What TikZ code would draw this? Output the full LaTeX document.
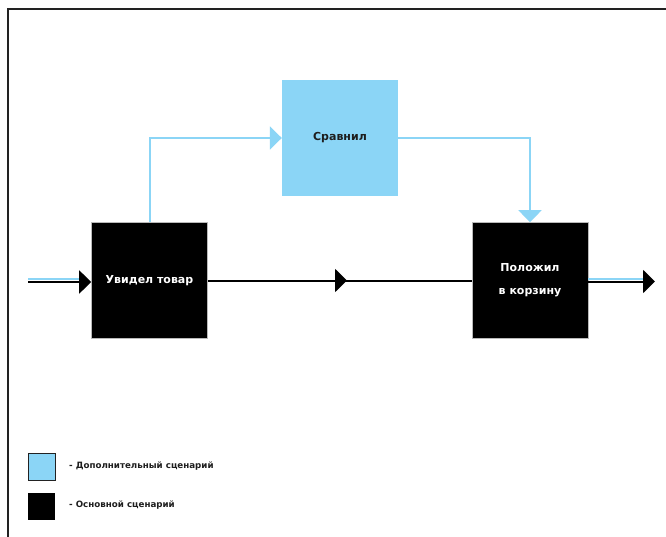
\documentclass[tikz,border=0pt]{standalone}
\usepackage{fontspec}
\setmainfont{DejaVu Sans}
\usetikzlibrary{arrows.meta}

\definecolor{skyb}{HTML}{8BD5F6}
\definecolor{framecol}{HTML}{222222}
\definecolor{ink}{HTML}{1E1E1E}

\begin{document}
\begin{tikzpicture}[x=1pt,y=-1pt,
  flowbox/.style={minimum width=116pt,minimum height=116pt,inner sep=0pt,align=center},
  mainbox/.style={flowbox,fill=black,draw=gray!55,line width=0.6pt,text=white,
    font=\bfseries\fontsize{11}{23}\selectfont},
  altbox/.style={flowbox,fill=skyb,text=ink,font=\bfseries\fontsize{11}{23}\selectfont},
  mainline/.style={line width=2pt,black},
  altline/.style={line width=2pt,skyb},
  arrowed/.style={-{Triangle[length=12pt,width=23pt]}},
  legsq/.style={minimum width=27pt,minimum height=27pt,inner sep=0pt},
  legtext/.style={anchor=west,inner sep=0pt,text=ink,font=\bfseries\fontsize{8.7}{10}\selectfont}
]
\useasboundingbox (0,0) rectangle (666,537);
\fill[white] (0,0) rectangle (666,537);

% frame
\draw[framecol,line width=2pt] (7.5,540) -- (7.5,9.5) -- (670,9.5);

% steps
\node[mainbox] (seen) at (149.5,280.5) {Увидел товар};
\node[altbox]  (cmp)  at (340,138) {Сравнил};
\node[mainbox] (cart) at (530,280.5) {Положил\\в корзину};

% incoming flow
\coordinate (inBlue)  at (28,279);
\coordinate (inBlack) at (28,282);
\draw[altline,shorten >=12pt] (inBlue) -- (inBlue -| seen.west);
\draw[mainline,arrowed] (inBlack) -- (inBlack -| seen.west);

% main flow
\coordinate (midTip) at (347,280.5);
\draw[mainline] (seen.east) -- (cart.west);
\draw[mainline,arrowed] (seen.east) -- (midTip);

% alternative flow
\draw[altline,arrowed] (seen.north) -- (seen.north |- cmp.west) -- (cmp.west);
\draw[altline,arrowed] (cmp.east) -| (cart.north);

% outgoing flow
\coordinate (outBlue)  at (643,278.5);
\coordinate (outBlack) at (655,281.5);
\draw[altline] (cart.east |- outBlue) -- (outBlue);
\draw[mainline,arrowed] (cart.east |- outBlack) -- (outBlack);

% legend
\node[legsq,fill=skyb,draw=framecol,line width=0.8pt] (legAlt) at (41.5,466.5) {};
\node[legsq,fill=black] (legMain) at (41.5,506) {};
\node[legtext] (legAltText) at (69,466.5) {- Дополнительный сценарий};
\node[legtext] (legMainText) at (69,505) {- Основной сценарий};
\end{tikzpicture}
\end{document}
